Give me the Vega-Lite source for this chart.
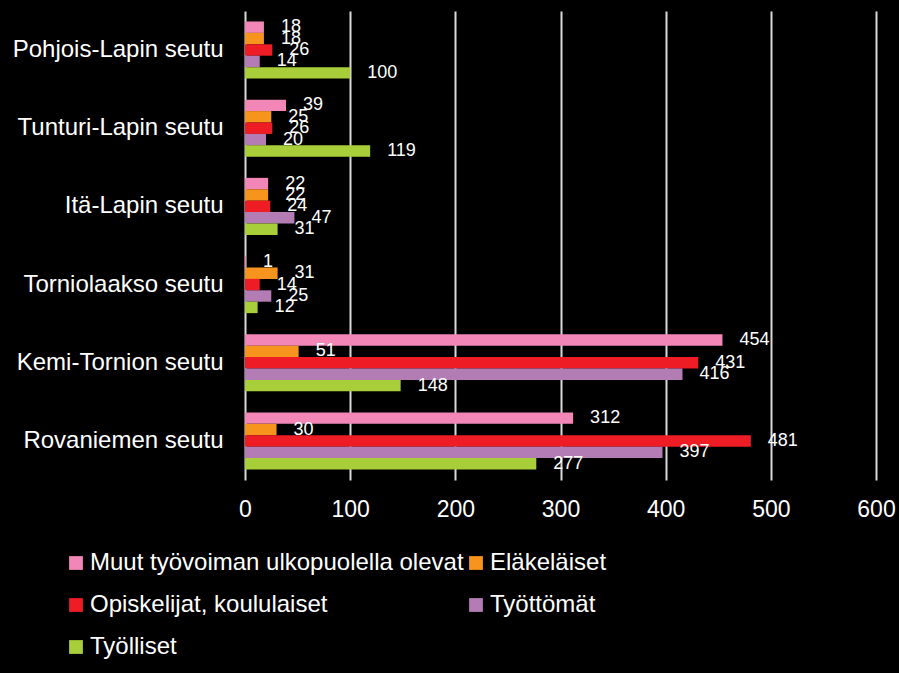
{
  "$schema": "https://vega.github.io/schema/vega-lite/v6.json",
  "width": 631,
  "height": 469,
  "autosize": {"type": "none"},
  "padding": {"left": 245, "top": 11, "right": 23, "bottom": 193},
  "background": "#000000",
  "config": {
    "view": {"stroke": null},
    "font": "Liberation Sans"
  },
  "data": {
    "values": [
      {"seutu": "Pohjois-Lapin seutu", "ryhma": "Muut työvoiman ulkopuolella olevat", "arvo": 18},
      {"seutu": "Pohjois-Lapin seutu", "ryhma": "Eläkeläiset", "arvo": 18},
      {"seutu": "Pohjois-Lapin seutu", "ryhma": "Opiskelijat, koululaiset", "arvo": 26},
      {"seutu": "Pohjois-Lapin seutu", "ryhma": "Työttömät", "arvo": 14},
      {"seutu": "Pohjois-Lapin seutu", "ryhma": "Työlliset", "arvo": 100},
      {"seutu": "Tunturi-Lapin seutu", "ryhma": "Muut työvoiman ulkopuolella olevat", "arvo": 39},
      {"seutu": "Tunturi-Lapin seutu", "ryhma": "Eläkeläiset", "arvo": 25},
      {"seutu": "Tunturi-Lapin seutu", "ryhma": "Opiskelijat, koululaiset", "arvo": 26},
      {"seutu": "Tunturi-Lapin seutu", "ryhma": "Työttömät", "arvo": 20},
      {"seutu": "Tunturi-Lapin seutu", "ryhma": "Työlliset", "arvo": 119},
      {"seutu": "Itä-Lapin seutu", "ryhma": "Muut työvoiman ulkopuolella olevat", "arvo": 22},
      {"seutu": "Itä-Lapin seutu", "ryhma": "Eläkeläiset", "arvo": 22},
      {"seutu": "Itä-Lapin seutu", "ryhma": "Opiskelijat, koululaiset", "arvo": 24},
      {"seutu": "Itä-Lapin seutu", "ryhma": "Työttömät", "arvo": 47},
      {"seutu": "Itä-Lapin seutu", "ryhma": "Työlliset", "arvo": 31},
      {"seutu": "Torniolaakso seutu", "ryhma": "Muut työvoiman ulkopuolella olevat", "arvo": 1},
      {"seutu": "Torniolaakso seutu", "ryhma": "Eläkeläiset", "arvo": 31},
      {"seutu": "Torniolaakso seutu", "ryhma": "Opiskelijat, koululaiset", "arvo": 14},
      {"seutu": "Torniolaakso seutu", "ryhma": "Työttömät", "arvo": 25},
      {"seutu": "Torniolaakso seutu", "ryhma": "Työlliset", "arvo": 12},
      {"seutu": "Kemi-Tornion seutu", "ryhma": "Muut työvoiman ulkopuolella olevat", "arvo": 454},
      {"seutu": "Kemi-Tornion seutu", "ryhma": "Eläkeläiset", "arvo": 51},
      {"seutu": "Kemi-Tornion seutu", "ryhma": "Opiskelijat, koululaiset", "arvo": 431},
      {"seutu": "Kemi-Tornion seutu", "ryhma": "Työttömät", "arvo": 416},
      {"seutu": "Kemi-Tornion seutu", "ryhma": "Työlliset", "arvo": 148},
      {"seutu": "Rovaniemen seutu", "ryhma": "Muut työvoiman ulkopuolella olevat", "arvo": 312},
      {"seutu": "Rovaniemen seutu", "ryhma": "Eläkeläiset", "arvo": 30},
      {"seutu": "Rovaniemen seutu", "ryhma": "Opiskelijat, koululaiset", "arvo": 481},
      {"seutu": "Rovaniemen seutu", "ryhma": "Työttömät", "arvo": 397},
      {"seutu": "Rovaniemen seutu", "ryhma": "Työlliset", "arvo": 277}
    ]
  },
  "encoding": {
    "y": {
      "field": "seutu",
      "type": "nominal",
      "sort": null,
      "title": null,
      "scale": {"paddingInner": 0.27, "paddingOuter": 0.134},
      "axis": {
        "domain": false,
        "ticks": false,
        "labelColor": "#FFFFFF",
        "labelFontSize": 24,
        "labelPadding": 22,
        "labelLimit": 400,
        "labelFont": "Liberation Sans"
      }
    },
    "yOffset": {
      "field": "ryhma",
      "type": "nominal",
      "sort": ["Muut työvoiman ulkopuolella olevat", "Eläkeläiset", "Opiskelijat, koululaiset", "Työttömät", "Työlliset"],
      "scale": {"paddingInner": 0, "paddingOuter": 0}
    },
    "x": {
      "field": "arvo",
      "type": "quantitative",
      "title": null,
      "scale": {"domain": [0, 600], "nice": false},
      "axis": {
        "values": [0, 100, 200, 300, 400, 500, 600],
        "domain": false,
        "ticks": false,
        "grid": true,
        "gridColor": "#D9D9D9",
        "gridWidth": 2,
        "labelColor": "#FFFFFF",
        "labelFontSize": 23,
        "labelPadding": 18,
        "labelFont": "Liberation Sans",
        "labelFlush": false
      }
    }
  },
  "layer": [
    {
      "mark": {"type": "bar"},
      "encoding": {
        "color": {
          "field": "ryhma",
          "type": "nominal",
          "scale": {
            "domain": ["Muut työvoiman ulkopuolella olevat", "Eläkeläiset", "Opiskelijat, koululaiset", "Työttömät", "Työlliset"],
            "range": ["#F287B7", "#F7941E", "#EE1C25", "#B47CB4", "#A8CE3A"]
          },
          "legend": {
            "title": null,
            "orient": "none",
            "legendX": -181,
            "legendY": 540,
            "direction": "horizontal",
            "columns": 2,
            "columnPadding": 0,
            "rowPadding": 18,
            "symbolType": "square",
            "symbolSize": 190,
            "symbolStrokeWidth": 0,
            "symbolOpacity": 1,
            "labelColor": "#FFFFFF",
            "labelFontSize": 24,
            "labelFont": "Liberation Sans",
            "labelOffset": 2,
            "labelLimit": 500
          }
        }
      }
    },
    {
      "mark": {"type": "text", "align": "left", "baseline": "middle", "dx": 17, "color": "#FFFFFF", "fontSize": 18, "font": "Liberation Sans"},
      "encoding": {
        "text": {"field": "arvo", "type": "quantitative"}
      }
    }
  ]
}
